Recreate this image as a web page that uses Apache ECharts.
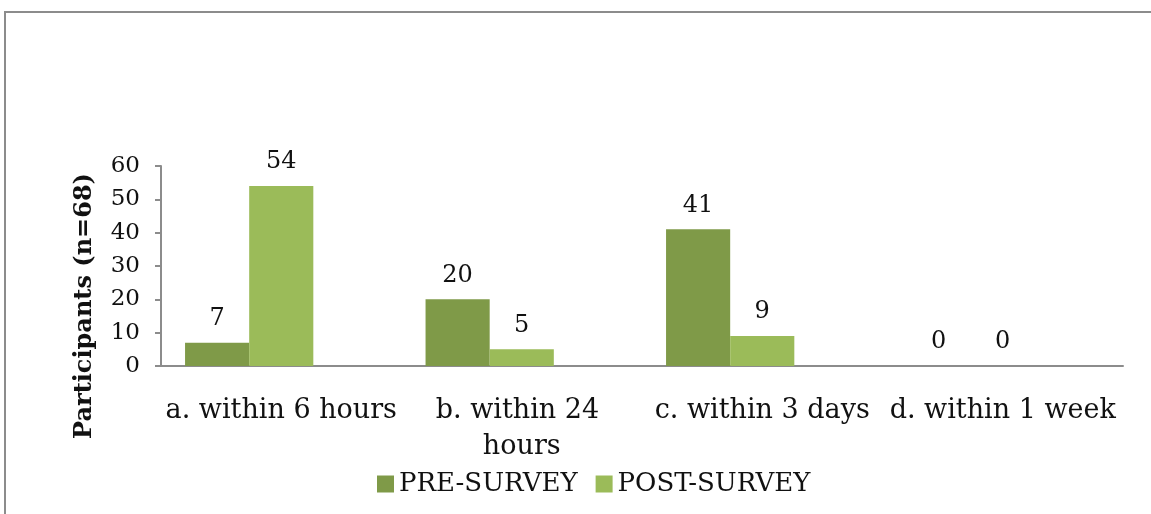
<!DOCTYPE html>
<html>
<head>
<meta charset="utf-8">
<script src="https://cdn.jsdelivr.net/npm/echarts@6/dist/echarts.min.js"></script>
<style>
html,body{margin:0;padding:0;background:#fff;}
#frame{position:absolute;left:4px;top:11px;width:1200px;height:600px;border:2px solid #8c8c8c;box-sizing:border-box;}
#chart{position:absolute;left:0;top:0;width:1151px;height:514px;}
</style>
</head>
<body>
<div id="frame"></div>
<div id="chart"></div>
<script>
const categories = ['a. within 6 hours', 'b. within 24 hours', 'c. within 3 days', 'd. within 1 week'];
const preSurvey = [7, 20, 41, 0];
const postSurvey = [54, 5, 9, 0];
const yTicks = {min: 0, max: 60, interval: 10};
const yTitle = 'Participants (n=68)';

const FONT = 'DejaVu Serif';
const chart = echarts.init(document.getElementById('chart'), null, {renderer: 'canvas'});
const labelStyle = {show: true, position: 'top', distance: 12, fontFamily: FONT, fontSize: 24, color: '#111'};
chart.setOption({
  animation: false,
  backgroundColor: 'transparent',
  grid: {left: 161, right: 28, top: 166, bottom: 148, containLabel: false},
  legend: {
    data: ['PRE-SURVEY', 'POST-SURVEY'],
    bottom: 12, left: 372,
    icon: 'rect', itemWidth: 17, itemHeight: 17, itemGap: 18,
    textStyle: {fontFamily: FONT, fontSize: 26, color: '#111'}
  },
  graphic: [{
    type: 'text', rotation: Math.PI / 2,
    x: 85, y: 306,
    style: {text: yTitle, fontFamily: FONT, fontWeight: 'bold', fontSize: 24, fill: '#111', align: 'center', verticalAlign: 'middle'}
  }],
  xAxis: {
    type: 'category', data: categories,
    axisLine: {lineStyle: {color: '#8c8c8c', width: 2}},
    axisTick: {show: false},
    axisLabel: {fontFamily: FONT, fontSize: 27, color: '#111', margin: 27, width: 238, overflow: 'break', lineHeight: 36, interval: 0}
  },
  yAxis: {
    type: 'value', min: yTicks.min, max: yTicks.max, interval: yTicks.interval,
    axisLine: {show: true, lineStyle: {color: '#8c8c8c', width: 2}},
    axisTick: {show: true, length: 6, lineStyle: {color: '#8c8c8c', width: 2}},
    splitLine: {show: false},
    axisLabel: {fontFamily: FONT, fontSize: 23, color: '#111', margin: 21}
  },
  series: [
    {name: 'PRE-SURVEY', type: 'bar', data: preSurvey, barGap: '0%', barCategoryGap: '20%', itemStyle: {color: '#7f9a48'}, label: labelStyle},
    {name: 'POST-SURVEY', type: 'bar', data: postSurvey, barGap: '0%', barCategoryGap: '20%', itemStyle: {color: '#9bbb59'}, label: labelStyle},
    {name: 'spacer', type: 'bar', data: categories.map(() => null), barGap: '0%', barCategoryGap: '20%', silent: true, label: {show: false}}
  ]
});
</script>
</body>
</html>
